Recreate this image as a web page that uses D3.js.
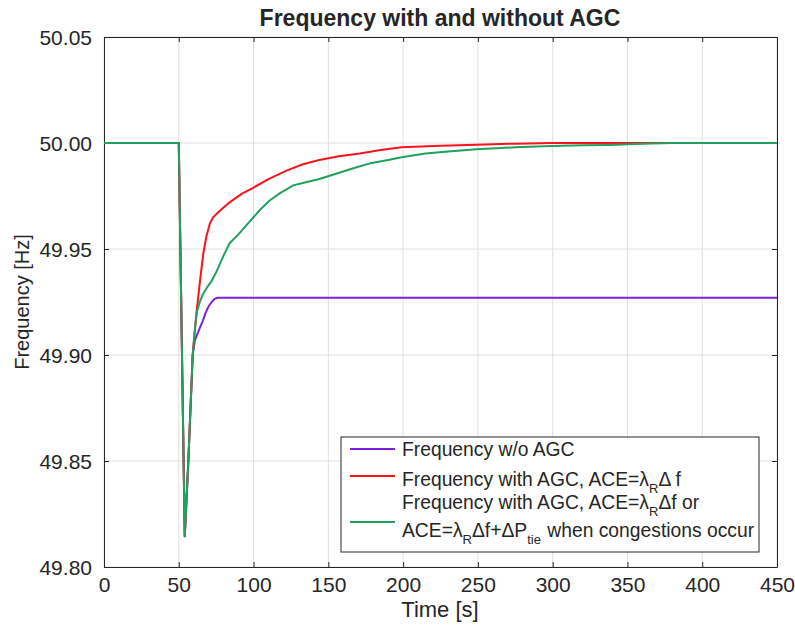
<!DOCTYPE html>
<html>
<head>
<meta charset="utf-8">
<script src="https://cdn.jsdelivr.net/npm/d3@7/dist/d3.min.js"></script>
<style>
  html, body { margin: 0; padding: 0; background: #fff; }
  text { font-family: "Liberation Sans", Arial, sans-serif; fill: #262626; }
</style>
</head>
<body>
<svg id="chart" width="795" height="627"></svg>
<script>
// ---------- data ----------
const xTicks = [0, 50, 100, 150, 200, 250, 300, 350, 400, 450];
const yTicks = [49.80, 49.85, 49.90, 49.95, 50.00, 50.05];

const timeNoAGC = [0, 50, 54, 56.4, 59.3, 60.8, 62.5, 64.2, 66, 68, 70, 72, 74, 76, 450];
const freqNoAGC = [50, 50, 49.8145, 49.85, 49.90, 49.907, 49.910, 49.913, 49.916, 49.920, 49.923, 49.925, 49.9265, 49.927, 49.927];

const timeAGC = [0, 50, 54, 56.4, 59.3, 60.5, 62, 64.2, 66.4, 68.5, 70.8, 73, 77.5, 84, 92, 100, 110, 122, 133, 144, 157, 171, 185, 199, 225, 249, 275, 300, 450];
const freqAGC = [50, 50, 49.8145, 49.85, 49.90, 49.91, 49.921, 49.935, 49.948, 49.956, 49.962, 49.965, 49.968, 49.972, 49.976, 49.979, 49.983, 49.987, 49.990, 49.992, 49.9937, 49.995, 49.9967, 49.998, 49.9987, 49.9992, 49.9997, 50.0, 50.0];

const timeCong = [0, 50, 54, 56.4, 59.3, 60.5, 62, 64, 66.4, 69, 72, 75, 77.5, 80, 84, 90, 95, 100, 105, 111, 118, 126.5, 135, 144, 153, 162, 170, 178, 190, 199, 215, 230, 249, 275, 299, 320, 338, 360, 380, 450];
const freqCong = [50, 50, 49.8145, 49.85, 49.90, 49.91, 49.92, 49.925, 49.929, 49.932, 49.935, 49.939, 49.943, 49.947, 49.9527, 49.957, 49.961, 49.965, 49.969, 49.973, 49.9765, 49.980, 49.9815, 49.983, 49.985, 49.987, 49.9888, 49.9904, 49.992, 49.9933, 49.995, 49.996, 49.997, 49.998, 49.9986, 49.9989, 49.9991, 49.9996, 50.0, 50.0];

const seriesColors = ["#7e1fd9", "#f8141c", "#21a05e"];

// ---------- layout ----------
const svg = d3.select("#chart");
const L = 104, R = 777, T = 37, B = 567;
const x = d3.scaleLinear().domain([0, 450]).range([L, R]);
const y = d3.scaleLinear().domain([49.80, 50.05]).range([B, T]);

// grid
const grid = svg.append("g");
grid.selectAll("line.gx").data(xTicks).join("line")
  .attr("x1", d => x(d)).attr("x2", d => x(d)).attr("y1", T).attr("y2", B)
  .attr("stroke", "#e0e0e0").attr("stroke-width", 1);
grid.selectAll("line.gy").data(yTicks).join("line")
  .attr("x1", L).attr("x2", R).attr("y1", d => y(d)).attr("y2", d => y(d))
  .attr("stroke", "#e0e0e0").attr("stroke-width", 1);

// axes
const tickLen = 5;
const axB = svg.append("g").attr("transform", `translate(0,${B})`)
  .call(d3.axisBottom(x).tickValues(xTicks).tickSizeInner(-tickLen).tickSizeOuter(0).tickPadding(10).tickFormat(d3.format("d")));
const axT = svg.append("g").attr("transform", `translate(0,${T})`)
  .call(d3.axisTop(x).tickValues(xTicks).tickSizeInner(-tickLen).tickSizeOuter(0).tickFormat(""));
const axL = svg.append("g").attr("transform", `translate(${L},0)`)
  .call(d3.axisLeft(y).tickValues(yTicks).tickSizeInner(-tickLen).tickSizeOuter(0).tickPadding(12).tickFormat(d3.format(".2f")));
const axR = svg.append("g").attr("transform", `translate(${R},0)`)
  .call(d3.axisRight(y).tickValues(yTicks).tickSizeInner(-tickLen).tickSizeOuter(0).tickFormat(""));
[axB, axT, axL, axR].forEach(a => {
  a.selectAll("path.domain").attr("stroke", "#262626");
  a.selectAll(".tick line").attr("stroke", "#262626");
  a.selectAll(".tick text").style("font-family", "'Liberation Sans', Arial, sans-serif")
    .style("font-size", "21px").attr("fill", "#262626");
});
axL.selectAll(".tick text").attr("dy", "0.35em");

// lines
const line = d3.line().x(d => x(d[0])).y(d => y(d[1]));
const series = [
  d3.zip(timeNoAGC, freqNoAGC),
  d3.zip(timeAGC, freqAGC),
  d3.zip(timeCong, freqCong)
];
svg.append("g").selectAll("path").data(series).join("path")
  .attr("d", line).attr("fill", "none")
  .attr("stroke", (d, i) => seriesColors[i]).attr("stroke-width", 2)
  .attr("stroke-linejoin", "round");

// title & labels
svg.append("text").attr("x", 440).attr("y", 26).attr("text-anchor", "middle")
  .style("font-size", "23px").style("font-weight", "bold").text("Frequency with and without AGC");
svg.append("text").attr("x", 440).attr("y", 617).attr("text-anchor", "middle")
  .style("font-size", "22px").text("Time [s]");
svg.append("text").attr("transform", `translate(29,${(T + B) / 2}) rotate(-90)`).attr("text-anchor", "middle")
  .style("font-size", "20px").text("Frequency [Hz]");

// legend
const lg = svg.append("g");
lg.append("rect").attr("x", 341).attr("y", 437).attr("width", 418).attr("height", 115)
  .attr("fill", "#fff").attr("stroke", "#262626").attr("stroke-width", 1);
const legY = [449, 476, 522];
lg.selectAll("line").data(legY).join("line")
  .attr("x1", 350).attr("x2", 395).attr("y1", d => d).attr("y2", d => d)
  .attr("stroke", (d, i) => seriesColors[i]).attr("stroke-width", 2);

const fs = "19.3px", sub = "13px";
function addText(yb, parts) {
  const t = lg.append("text").attr("x", 402).attr("y", yb).style("font-size", fs);
  parts.forEach(p => {
    const ts = t.append("tspan").text(p[0]);
    if (p[1] === "sub") ts.style("font-size", sub).attr("dy", 7);
    if (p[1] === "back") ts.attr("dy", -7);
    if (p[1] === "backsp") ts.attr("dy", -7).attr("dx", 1);
  });
}
addText(456, [["Frequency w/o AGC"]]);
addText(486, [["Frequency with AGC, ACE=λ"], ["R", "sub"], ["Δ f", "back"]]);
addText(509, [["Frequency with AGC, ACE=λ"], ["R", "sub"], ["Δf or", "back"]]);
addText(537, [["ACE=λ"], ["R", "sub"], ["Δf+ΔP", "back"], ["tie", "sub"], [" when congestions occur", "backsp"]]);
</script>
</body>
</html>
